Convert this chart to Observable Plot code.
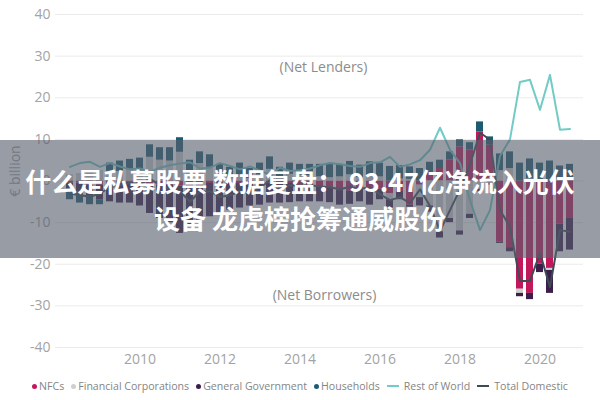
<!DOCTYPE html>
<html>
<head>
<meta charset="utf-8">
<script src="https://cdn.jsdelivr.net/npm/d3@7"></script>
<script src="https://cdn.jsdelivr.net/npm/@observablehq/plot@0.6"></script>
<style>
  body { margin: 0; background: #fff; }
  #wrap { position: relative; width: 600px; height: 400px; overflow: hidden; font-family: "Open Sans", sans-serif; }
  #banner { position: absolute; left: 0; top: 140px; width: 600px; height: 118px;
    background: rgba(88, 96, 110, 0.62); color: #fff;
    font-family: "Noto Sans CJK SC", sans-serif; font-weight: 700; font-size: 26px; line-height: 37px;
    text-align: center; display: flex; flex-direction: column; justify-content: center; }
  #legend { height: 28px; display: flex; justify-content: center; align-items: center; gap: 7px;
    font-size: 10.6px; color: #858585; white-space: nowrap; padding-left: 0; }
  .item { display: flex; align-items: center; gap: 2px; }
  .dot { width: 5px; height: 5px; border-radius: 50%; display: inline-block; }
  .ln { width: 12px; height: 2px; display: inline-block; margin-right: 3px; }
</style>
</head>
<body>
<div id="wrap">
  <div id="chart"></div>
  <div id="legend"></div>
  <div id="banner"><div>什么是私募股票 数据复盘： 93.47亿净流入光伏</div><div>设备 龙虎榜抢筹通威股份</div></div>
</div>
<script>
const quarters = [
  "2008Q2","2008Q3","2008Q4",
  "2009Q1","2009Q2","2009Q3","2009Q4",
  "2010Q1","2010Q2","2010Q3","2010Q4",
  "2011Q1","2011Q2","2011Q3","2011Q4",
  "2012Q1","2012Q2","2012Q3","2012Q4",
  "2013Q1","2013Q2","2013Q3","2013Q4",
  "2014Q1","2014Q2","2014Q3","2014Q4",
  "2015Q1","2015Q2","2015Q3","2015Q4",
  "2016Q1","2016Q2","2016Q3","2016Q4",
  "2017Q1","2017Q2","2017Q3","2017Q4",
  "2018Q1","2018Q2","2018Q3","2018Q4",
  "2019Q1","2019Q2","2019Q3","2019Q4",
  "2020Q1","2020Q2","2020Q3","2020Q4"
];
const nfcs = [
  -0.5,-0.5,-1,
  -1,-0.5,-0.5,-0.3,
  -0.5,-0.8,-1,-1,
  -1.2,-1,-0.8,-0.6,
  -0.5,-0.5,-0.6,-0.5,
  -0.8,-0.5,-0.8,-0.6,
  -1,-1.2,-1.5,-1.8,
  -2.3,-2.5,-2,-2.4,
  -2,-3,-2.5,-5.8,
  -1,2,3,5,
  8.2,7.5,11.8,8.6,
  -14.7,-16,-26,-27,
  -20,-21,-10.4,-9
];
const financialCorporations = [
  1.5,1.8,2,
  2.5,2.3,2.3,2.7,
  2.5,5.7,5,4.8,
  6.9,2,4.2,3.3,
  1.2,0.8,1.5,0.6,
  1.5,2.8,0.8,1.6,
  1.4,1.2,1,0.8,
  1,1.5,0.8,1.2,
  1,-1.5,0.5,0.4,
  -3,-6,-12.2,-9,
  -12,-8,-2,-0.5,
  2.5,3,-1,0.5,
  0.3,-0.5,0.5,0.3
];
const generalGovernment = [
  -1.5,-2,-2.5,
  -3.5,-4.5,-4.8,-5,
  -5.5,-7,-8,-9,
  -11.4,-10,-8.6,-8,
  -7.5,-6.5,-5.9,-5.5,
  -5,-4.8,-4.5,-4.6,
  -4,-3.8,-3.5,-3.4,
  -3.5,-3.1,-3,-3.4,
  -2.5,-2,-2,-0.5,
  -2,-1.5,-1.5,-1,
  -1,-1,-0.6,-0.5,
  -0.3,-1,-0.8,-1.5,
  -2,-5.5,-6.6,-7.6
];
const households = [
  -2.5,-2.8,-2.2,
  -1.2,2,2.5,2.5,
  3,3,3,3.2,
  3.5,3,2.8,3,
  2.8,2.5,2.8,2.4,
  2.8,3,2.5,2.7,
  2.6,2.8,3,3.2,
  3,3.2,3,3.4,
  3.3,3.5,3.2,3,
  3,2.5,2,2,
  1.7,1.7,2.4,2,
  4,4,4.3,4.8,
  4,4.8,3.1,3.7
];
const restOfWorld = [
  3.4,4.3,4.6,
  3.4,4.3,3.5,2.8,
  3,2.2,3.2,3.8,
  4.2,4.5,3,3.2,
  4.3,3.6,2.8,3.5,
  2.5,1.5,3.2,2.4,
  2.6,3,3.8,4.3,
  4,3.6,3.4,4.3,
  4.5,5.8,3.4,4,
  5,7.5,12.8,7.5,
  4.3,-4.6,-11.8,-7,
  6,10,23.8,24.3,
  17.1,25.5,12.3,12.5
];
const totalDomestic = [
  -3,-3.4,-3.8,
  -3,-1.5,-1,-0.5,
  -0.8,0.5,-1,-2,
  -2.5,-5,-2.5,-2.5,
  -3.8,-3.5,-2.4,-3,
  -1.6,0.2,-2.2,-1,
  -1.2,-1,-1.3,-1.5,
  -2,-1.4,-1.8,-1.6,
  -3.2,-4.6,-3.9,-5.3,
  -2,-6,-12,-7,
  -2,4,11.6,9.9,
  -7,-11,-24,-24,
  -17.3,-25.5,-11.8,-12.2
];
const yTicks = [-40,-30,-20,-10,0,10,20,30,40];
const yearTicks = ["2010","2012","2014","2016","2018","2020"];
const sectors = ["NFCs","Financial Corporations","General Government","Households"];
const sectorColors = ["#c2185b","#cfcfcf","#3b1e4c","#1d5c70"];
const rowColor = "#72cbc5";
const tdColor = "#3d4b55";

const sectorValues = [nfcs, financialCorporations, generalGovernment, households];
const bars = sectors.flatMap((s, k) => quarters.map((q, i) => ({q, sector: s, value: sectorValues[k][i]})));
const rowLine = quarters.map((q, i) => ({q, value: restOfWorld[i]}));
const tdLine = quarters.map((q, i) => ({q, value: totalDomestic[i]}));

const chart = Plot.plot({
  width: 600,
  height: 372,
  marginLeft: 55,
  marginRight: 17,
  marginTop: 14,
  marginBottom: 25,
  style: {fontFamily: "'Open Sans', sans-serif", fontSize: "14px", color: "#a3a3a3", background: "#fff"},
  x: {type: "band", domain: quarters, paddingInner: 0.33, paddingOuter: 0, align: 0.5, label: null},
  y: {domain: [-40, 40], label: null},
  color: {domain: sectors, range: sectorColors},
  marks: [
    Plot.gridY(yTicks, {stroke: "#ebebeb", strokeOpacity: 1}),
    Plot.barY(bars, {x: "q", y: "value", fill: "sector"}),
    Plot.lineY(rowLine, {x: "q", y: "value", stroke: rowColor, strokeWidth: 2}),
    Plot.lineY(tdLine, {x: "q", y: "value", stroke: tdColor, strokeWidth: 2}),
    Plot.axisY(yTicks, {tickSize: 0, tickPadding: 5, tickFormat: d => String(d), label: null}),
    Plot.text(["€ billion"], {frameAnchor: "left", textAnchor: "middle", rotate: -90, dx: -40, dy: -10, fill: "#a3a3a3", fontSize: 14}),
    Plot.axisX(yearTicks.map(y => y + "Q1"), {tickSize: 0, tickPadding: 7, tickFormat: d => d.slice(0, 4), label: null}),
    Plot.text(["(Net Lenders)"], {frameAnchor: "middle", dx: 4, dy: -113, fill: "#8c8c8c", fontSize: 14}),
    Plot.text(["(Net Borrowers)"], {frameAnchor: "middle", dx: 5, dy: 115, fill: "#8c8c8c", fontSize: 14})
  ]
});
document.getElementById("chart").appendChild(chart);

const legend = document.getElementById("legend");
sectors.forEach((s, i) => {
  const it = document.createElement("span");
  it.className = "item";
  it.innerHTML = `<span class="dot" style="background:${sectorColors[i]}"></span>${s}`;
  legend.appendChild(it);
});
[["Rest of World", rowColor], ["Total Domestic", tdColor]].forEach(([s, c]) => {
  const it = document.createElement("span");
  it.className = "item";
  it.innerHTML = `<span class="ln" style="background:${c}"></span>${s}`;
  legend.appendChild(it);
});
</script>
</body>
</html>
